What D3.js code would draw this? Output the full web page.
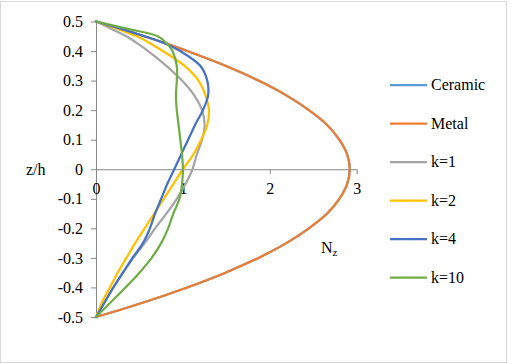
<!DOCTYPE html>
<html>
<head>
<meta charset="utf-8">
<script src="https://cdn.jsdelivr.net/npm/d3@7"></script>
<style>
  body { margin: 0; background: #fff; }
</style>
</head>
<body>
<svg id="chart" width="512" height="364"></svg>
<script>
// z/h levels (top to bottom)
var zLevels = [0.5, 0.475, 0.45, 0.425, 0.4, 0.35, 0.3, 0.25, 0.2, 0.15, 0.1, 0.05, 0,
               -0.05, -0.1, -0.15, -0.2, -0.25, -0.3, -0.35, -0.4, -0.45, -0.5];

var ceramic = [0, 0.285, 0.555, 0.81, 1.05, 1.49, 1.87, 2.19, 2.45, 2.66, 2.80, 2.89, 2.92,
               2.89, 2.80, 2.66, 2.45, 2.19, 1.87, 1.49, 1.05, 0.555, 0];
var metal   = [0, 0.285, 0.555, 0.81, 1.05, 1.49, 1.87, 2.19, 2.45, 2.66, 2.80, 2.89, 2.92,
               2.89, 2.80, 2.66, 2.45, 2.19, 1.87, 1.49, 1.05, 0.555, 0];
var k1      = [0, 0.18, 0.35, 0.48, 0.60, 0.81, 0.99, 1.13, 1.22, 1.25, 1.22, 1.16, 1.11,
               1.03, 0.93, 0.81, 0.68, 0.56, 0.43, 0.31, 0.20, 0.10, 0];
var k2      = [0, 0.25, 0.47, 0.63, 0.77, 1.02, 1.18, 1.26, 1.30, 1.28, 1.21, 1.12, 1.00,
               0.89, 0.78, 0.67, 0.56, 0.45, 0.35, 0.25, 0.16, 0.07, 0];
var k4      = [0, 0.29, 0.56, 0.80, 0.97, 1.20, 1.28, 1.29, 1.23, 1.14, 1.06, 0.98, 0.90,
               0.82, 0.75, 0.68, 0.62, 0.54, 0.42, 0.31, 0.20, 0.10, 0];
var k10     = [0, 0.37, 0.71, 0.82, 0.88, 0.93, 0.93, 0.92, 0.93, 0.95, 0.97, 0.99, 1.00,
               0.99, 0.96, 0.89, 0.83, 0.75, 0.64, 0.50, 0.34, 0.17, 0];

var seriesNames = ["Ceramic", "Metal", "k=1", "k=2", "k=4", "k=10"];
var seriesValues = [ceramic, metal, k1, k2, k4, k10];
var colors = ["#5B9BD5", "#ED7D31", "#A5A5A5", "#FFC000", "#4472C4", "#70AD47"];

var xTicks = [0, 1, 2, 3];
var yTicks = [0.5, 0.4, 0.3, 0.2, 0.1, 0, -0.1, -0.2, -0.3, -0.4, -0.5];
var yTickLabels = ["0.5", "0.4", "0.3", "0.2", "0.1", "0", "-0.1", "-0.2", "-0.3", "-0.4", "-0.5"];

var serif = "'Liberation Serif', 'DejaVu Serif', serif";

var svg = d3.select("svg#chart");

// outer chart border
svg.append("rect")
   .attr("x", 0.5).attr("y", 1.5)
   .attr("width", 506).attr("height", 361)
   .attr("fill", "none")
   .attr("stroke", "#d9d9d9");

var x = d3.scaleLinear().domain([0, 3]).range([96, 356.7]),
    y = d3.scaleLinear().domain([-0.5, 0.5]).range([317, 21.5]);

var yAxis = svg.append("g")
               .attr("transform", "translate(" + x(0) + ",0)")
               .call(d3.axisLeft(y).tickValues(yTicks).tickSize(5).tickSizeOuter(0).tickPadding(8)
                     .tickFormat(function(d, i) { return yTickLabels[i]; }));

var xAxis = svg.append("g")
               .attr("transform", "translate(0," + y(0) + ")")
               .call(d3.axisBottom(x).tickValues(xTicks).tickSize(5).tickSizeOuter(0).tickPadding(8)
                     .tickFormat(d3.format("d")));

svg.selectAll(".domain, .tick line").attr("stroke", "#868686");

svg.append("text").attr("x", 26).attr("y", 175).text("z/h");

var nz = svg.append("text").attr("x", 321).attr("y", 253);
nz.append("tspan").text("N");
nz.append("tspan").style("font-size", "11px").attr("dy", 3).text("z");

var line = d3.line()
             .x(function(d) { return x(d[0]); })
             .y(function(d) { return y(d[1]); })
             .curve(d3.curveCatmullRom.alpha(0.5));

seriesValues.forEach(function(vals, i) {
  svg.append("path")
     .attr("class", "line")
     .attr("d", line(vals.map(function(v, j) { return [v, zLevels[j]]; })))
     .attr("fill", "none")
     .attr("stroke", colors[i])
     .attr("stroke-width", 2.25)
     .attr("stroke-linejoin", "round")
     .attr("stroke-linecap", "round");
});

var legend = svg.selectAll(".legend")
                .data(seriesNames)
                .enter().append("g")
                .attr("class", "legend")
                .attr("transform", function(d, i) { return "translate(390," + (85 + i * 38.5) + ")"; });

legend.append("line")
      .attr("x1", 0).attr("x2", 37)
      .attr("stroke", function(d, i) { return colors[i]; })
      .attr("stroke-width", 2.25);

legend.append("text")
      .attr("x", 41).attr("dy", "0.32em")
      .text(function(d) { return d; });

svg.selectAll("text")
   .style("font-family", serif)
   .style("font-size", function() { return this.style.fontSize || "16px"; })
   .attr("fill", "#000");
yAxis.attr("font-family", null).attr("font-size", null);
xAxis.attr("font-family", null).attr("font-size", null);
</script>
</body>
</html>
